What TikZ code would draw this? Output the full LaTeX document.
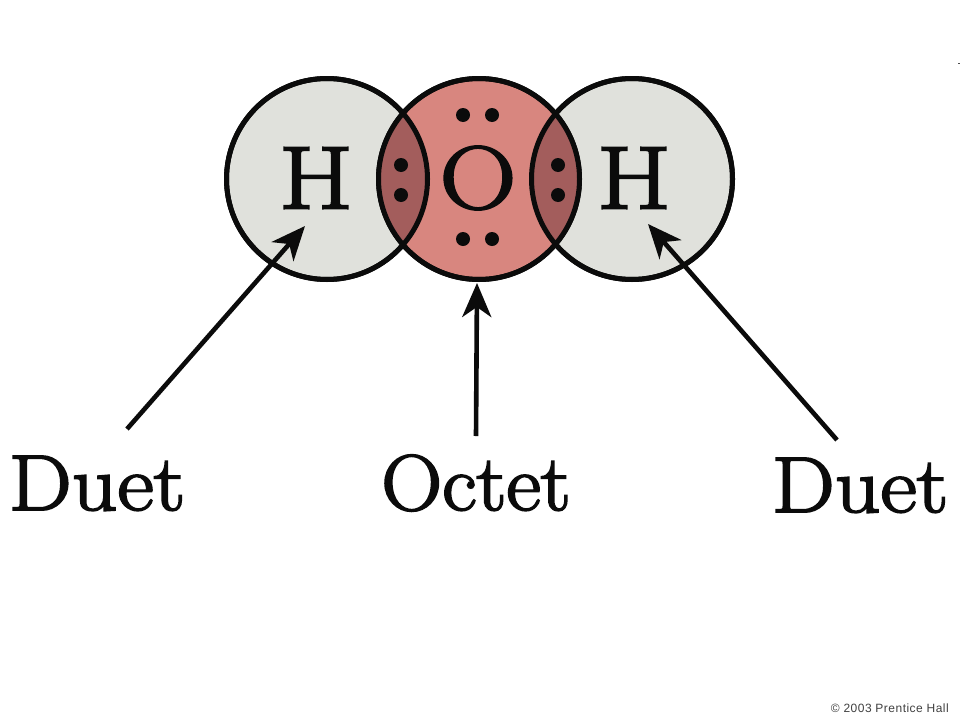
\documentclass[tikz,border=0pt]{standalone}
\usepackage{fontspec}
\setmainfont[FakeBold=2.5,FakeStretch=1.07]{Latin Modern Roman}
\newfontfamily\elemfont[FakeBold=2.5,FakeStretch=1.2]{Latin Modern Roman}
\newfontfamily\duetfont[FakeBold=2.5,FakeStretch=1.13]{Latin Modern Roman}
\newfontfamily\creditfont[LetterSpace=4]{Liberation Sans}
\usetikzlibrary{arrows.meta}
\definecolor{hfill}{HTML}{E0E1DC}
\definecolor{ofill}{HTML}{D8867F}
\definecolor{lensfill}{HTML}{A35D5C}
\definecolor{inkc}{HTML}{0B0B0B}
\tikzset{
  atom/.style={circle,draw=inkc,line width=5pt,minimum size=201pt,inner sep=0pt,outer sep=0pt},
  elem/.style={text=inkc,font=\elemfont\fontsize{89}{89}\selectfont,inner sep=0pt},
  word/.style={text=inkc,font=\fontsize{79}{79}\selectfont,inner sep=0pt,anchor=base},
  dword/.style={text=inkc,font=\duetfont\fontsize{79}{79}\selectfont,inner sep=0pt,anchor=base},
  dotc/.style={circle,fill=inkc,minimum size=14pt,inner sep=0pt},
  pointer/.style={draw=inkc,line width=4.6pt,-{Stealth[length=34pt,width=29pt,inset=10pt]}}
}
\begin{document}
\begin{tikzpicture}[x=1pt,y=-1pt]
\useasboundingbox (0,0) rectangle (960,720);
\fill[white] (0,0) rectangle (960,720);
\node[atom,fill=hfill] (hl) at (327,179) {};
\node[atom,fill=hfill] (hr) at (632,179) {};
\node[atom,fill=ofill] (o) at (479,179) {};
\begin{scope}
  \clip (479,179) circle (100.5pt);
  \fill[lensfill] (327,179) circle (100.5pt);
  \fill[lensfill] (632,179) circle (100.5pt);
\end{scope}
\draw[inkc,line width=5pt] (327,179) circle (100.5pt);
\draw[inkc,line width=5pt] (632,179) circle (100.5pt);
\draw[inkc,line width=5pt] (479,179) circle (100.5pt);
\node[elem] (hlt) at (316,178) {H};
\node[elem] (ot) at (478,178) {O};
\node[elem] (hrt) at (634,178) {H};
\node[dotc] (d1) at (463,115) {};
\node[dotc] (d2) at (492,115) {};
\node[dotc] (d3) at (463,239) {};
\node[dotc] (d4) at (492,239) {};
\node[dotc] (d5) at (401,165) {};
\node[dotc] (d6) at (401,195) {};
\node[dotc] (d7) at (558,165) {};
\node[dotc] (d8) at (558,195) {};
\node[dword] (dl) at (97,510) {Duet};
\node[word] (oc) at (476,510) {Octet};
\node[dword] (dr) at (860,512) {Duet};
\coordinate (al) at (127,429);
\coordinate (am) at (476,436);
\coordinate (ar) at (837,440);
\coordinate (tl) at (305,226);
\coordinate (tm) at (477,283);
\coordinate (tr) at (648,224);
\draw[pointer] (al) -- (tl);
\draw[pointer] (am) -- (tm);
\draw[pointer] (ar) -- (tr);
\node[anchor=base east,inner sep=0pt,text=black!75,font=\creditfont\fontsize{12}{14}\selectfont] (cr) at (949,712) {© 2003 Prentice Hall};
\fill[black!70] (957.5,62.5) rectangle (960,64);
\end{tikzpicture}
\end{document}
